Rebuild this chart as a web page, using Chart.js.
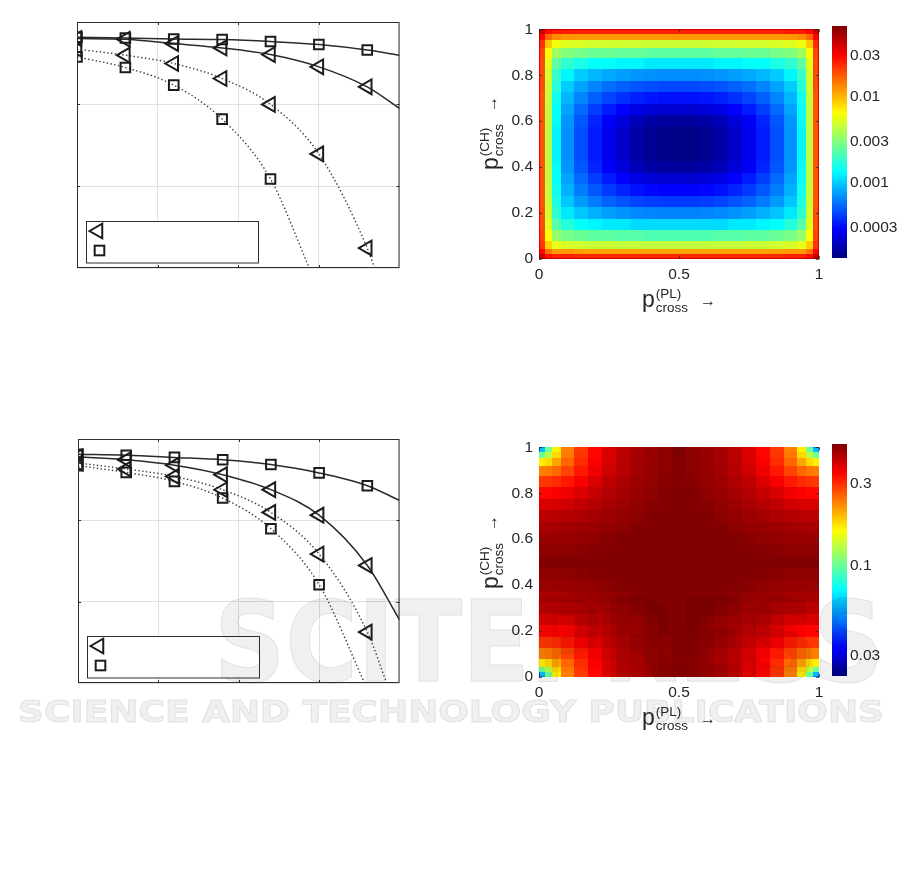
<!DOCTYPE html>
<html>
<head>
<meta charset="utf-8">
<script src="https://cdn.jsdelivr.net/npm/chart.js"></script>
<style>
  html, body { margin: 0; padding: 0; background: #fff; }
  #page { position: relative; width: 901px; height: 895px; overflow: hidden; }
  canvas { position: absolute; }
  .ttl {
    position: absolute; display: flex; align-items: center; white-space: nowrap;
    font-family: 'Liberation Sans', Arial, sans-serif; color: #262626; line-height: 1;
  }
  .ttl .pv { font-size: 23px; position: relative; top: -2px; }
  .ttl .ss { display: inline-flex; flex-direction: column; font-size: 13.5px; line-height: 14px; margin-left: 1px; }
  .ttl .ar { font-size: 16px; margin-left: 12px; }
  #wm { position: absolute; left: 0; top: 0; mix-blend-mode: multiply; pointer-events: none; }
</style>
</head>
<body>
<div id="page">
  <canvas id="linesTop" width="350" height="270" style="left:60px;top:10px"></canvas>
  <canvas id="linesBottom" width="350" height="270" style="left:60px;top:427px"></canvas>
  <canvas id="heatTop" width="335" height="282" style="left:495px;top:14px"></canvas>
  <canvas id="heatBottom" width="335" height="282" style="left:495px;top:432px"></canvas>
  <canvas id="cbarTop" width="75" height="260" style="left:826px;top:14px"></canvas>
  <canvas id="cbarBottom" width="75" height="260" style="left:826px;top:432px"></canvas>

  <div class="ttl" style="left:679px;top:301px;transform:translate(-50%,-50%)">
    <span class="pv">p</span><span class="ss"><span>(PL)</span><span>cross</span></span><span class="ar">&rarr;</span>
  </div>
  <div class="ttl" style="left:492px;top:133px;transform:translate(-50%,-50%) rotate(-90deg)">
    <span class="pv">p</span><span class="ss"><span>(CH)</span><span>cross</span></span><span class="ar">&rarr;</span>
  </div>
  <div class="ttl" style="left:679px;top:719px;transform:translate(-50%,-50%)">
    <span class="pv">p</span><span class="ss"><span>(PL)</span><span>cross</span></span><span class="ar">&rarr;</span>
  </div>
  <div class="ttl" style="left:492px;top:552px;transform:translate(-50%,-50%) rotate(-90deg)">
    <span class="pv">p</span><span class="ss"><span>(CH)</span><span>cross</span></span><span class="ar">&rarr;</span>
  </div>

  <svg id="wm" width="901" height="895">
    <text x="214" y="681" font-family="DejaVu Sans" font-weight="bold" font-size="112"
          textLength="670" lengthAdjust="spacingAndGlyphs" fill="#f0f0f0" stroke="#e2e2e2" stroke-width="1">SCITEPRESS</text>
    <text x="18" y="722" font-family="DejaVu Sans" font-weight="bold" font-size="31"
          textLength="866" lengthAdjust="spacingAndGlyphs" fill="#f0f0f0" stroke="#e2e2e2" stroke-width="1">SCIENCE AND TECHNOLOGY PUBLICATIONS</text>
  </svg>
</div>

<script>
'use strict';

// ══════════════════════════════════════
// DATA
// ══════════════════════════════════════
var SIM_X = [0, 3, 6, 9, 12, 15, 18];

// top-left panel: marker values (y in grid units, top of box = 0)
var TOP_TRI_SOLID = [-0.202, -0.210, -0.263, -0.316, -0.397, -0.547, -0.791];
var TOP_SQ_SOLID  = [-0.186, -0.195, -0.207, -0.214, -0.238, -0.275, -0.341];
var TOP_TRI_DOT   = [-0.332, -0.405, -0.506, -0.689, -1.005, -1.609, -2.757];
var TOP_SQ_DOT    = [-0.426, -0.555, -0.770, -1.184, -1.914];
// where each curve leaves the box (tri solid, sq solid, tri dotted, sq dotted)
var TOP_END_X = [20, 20, 18.45, 14.41];
var TOP_END_Y = [-1.054, -0.405, -3, -3];

// bottom-left panel
var BOT_TRI_SOLID = [-0.218, -0.255, -0.322, -0.439, -0.623, -0.937, -1.555];
var BOT_SQ_SOLID  = [-0.187, -0.199, -0.226, -0.255, -0.314, -0.417, -0.574];
var BOT_TRI_DOT   = [-0.295, -0.369, -0.460, -0.624, -0.903, -1.415, -2.374];
var BOT_SQ_DOT    = [-0.328, -0.411, -0.521, -0.726, -1.103, -1.792];
var BOT_END_X = [20, 20, 19.2, 17.83];
var BOT_END_Y = [-2.223, -0.755, -3, -3];

// heat maps: sample nodes on both axes (p_cross)
var P_NODES = [0, 0.01, 0.03, 0.06, 0.1, 0.15, 0.2, 0.25, 0.3, 0.35, 0.4, 0.45, 0.5,
               0.55, 0.6, 0.65, 0.7, 0.75, 0.8, 0.85, 0.9, 0.94, 0.97, 0.99, 1];
var HEAT_X_TICKS = [0, 0.5, 1];
var HEAT_Y_TICKS = [0, 0.2, 0.4, 0.6, 0.8, 1];

// top heat map, rows from p(CH)=0 up to p(CH)=1
var HEAT_TOP = [
  [.075,.058,.044,.041,.041,.04,.04,.04,.04,.04,.04,.04,.04,.04,.04,.04,.04,.04,.04,.04,.041,.041,.044,.058,.075],
  [.059,.042,.028,.025,.025,.024,.024,.024,.024,.024,.024,.024,.024,.024,.024,.024,.024,.024,.024,.024,.025,.025,.028,.042,.059],
  [.046,.029,.015,.012,.012,.0115,.0113,.0113,.0112,.0112,.0111,.0111,.0111,.0111,.0111,.0112,.0112,.0113,.0113,.0115,.012,.012,.015,.029,.046],
  [.039,.022,.0086,.0056,.005,.0048,.0046,.0046,.0045,.0045,.0044,.0044,.0044,.0044,.0044,.0045,.0045,.0046,.0046,.0048,.005,.0056,.0086,.022,.039],
  [.037,.02,.0064,.0034,.0028,.0026,.0024,.0024,.0023,.0023,.0022,.0022,.0022,.0022,.0022,.0023,.0023,.0024,.0024,.0026,.0028,.0034,.0064,.02,.037],
  [.036,.019,.0053,.0023,.0017,.0014,.0013,.0012,.0012,.0011,.0011,.0011,.0011,.0011,.0011,.0011,.0012,.0012,.0013,.0014,.0017,.0023,.0053,.019,.036],
  [.036,.019,.0048,.0018,.0012,.00097,.00084,.00076,.00071,.00067,.00065,.00064,.00064,.00064,.00065,.00067,.00071,.00076,.00084,.00097,.0012,.0018,.0048,.019,.036],
  [.035,.018,.0046,.0016,.00097,.00074,.00061,.00053,.00048,.00044,.00042,.00041,.00041,.00041,.00042,.00044,.00048,.00053,.00061,.00074,.00097,.0016,.0046,.018,.035],
  [.035,.018,.0045,.0015,.00085,.00062,.00049,.00041,.00036,.00032,.0003,.00029,.00029,.00029,.0003,.00032,.00036,.00041,.00049,.00062,.00085,.0015,.0045,.018,.035],
  [.035,.018,.0044,.0014,.00078,.00055,.00042,.00034,.00029,.00025,.00023,.00022,.00022,.00022,.00023,.00025,.00029,.00034,.00042,.00055,.00078,.0014,.0044,.018,.035],
  [.035,.018,.0044,.0014,.00072,.00049,.00036,.00028,.00023,.00019,.00017,.00016,.00016,.00016,.00017,.00019,.00023,.00028,.00036,.00049,.00072,.0014,.0044,.018,.035],
  [.035,.018,.0043,.0013,.0007,.00047,.00034,.00026,.00021,.00017,.00015,.00014,.00014,.00014,.00015,.00017,.00021,.00026,.00034,.00047,.0007,.0013,.0043,.018,.035],
  [.035,.018,.0043,.0013,.0007,.00047,.00034,.00026,.00021,.00017,.00015,.00014,.00014,.00014,.00015,.00017,.00021,.00026,.00034,.00047,.0007,.0013,.0043,.018,.035],
  [.035,.018,.0043,.0013,.0007,.00047,.00034,.00026,.00021,.00017,.00015,.00014,.00014,.00014,.00015,.00017,.00021,.00026,.00034,.00047,.0007,.0013,.0043,.018,.035],
  [.035,.018,.0044,.0014,.00072,.00049,.00036,.00028,.00023,.00019,.00017,.00016,.00016,.00016,.00017,.00019,.00023,.00028,.00036,.00049,.00072,.0014,.0044,.018,.035],
  [.035,.018,.0044,.0014,.00078,.00055,.00042,.00034,.00029,.00025,.00023,.00022,.00022,.00022,.00023,.00025,.00029,.00034,.00042,.00055,.00078,.0014,.0044,.018,.035],
  [.035,.018,.0045,.0015,.00088,.00065,.00052,.00044,.00039,.00035,.00033,.00032,.00032,.00032,.00033,.00035,.00039,.00044,.00052,.00065,.00088,.0015,.0045,.018,.035],
  [.036,.019,.0047,.0017,.001,.00078,.00065,.00057,.00052,.00048,.00046,.00045,.00045,.00045,.00046,.00048,.00052,.00057,.00065,.00078,.001,.0017,.0047,.019,.036],
  [.036,.019,.0049,.0019,.0013,.001,.00089,.00081,.00076,.00072,.0007,.00069,.00069,.00069,.0007,.00072,.00076,.00081,.00089,.001,.0013,.0019,.0049,.019,.036],
  [.036,.019,.0054,.0024,.0018,.0016,.0014,.0014,.0013,.0013,.0012,.0012,.0012,.0012,.0012,.0013,.0013,.0014,.0014,.0016,.0018,.0024,.0054,.019,.036],
  [.037,.02,.0066,.0036,.003,.0028,.0026,.0026,.0025,.0025,.0024,.0024,.0024,.0024,.0024,.0025,.0025,.0026,.0026,.0028,.003,.0036,.0066,.02,.037],
  [.04,.023,.0089,.0059,.0053,.0051,.0049,.0049,.0048,.0048,.0047,.0047,.0047,.0047,.0047,.0048,.0048,.0049,.0049,.0051,.0053,.0059,.0089,.023,.04],
  [.047,.03,.016,.013,.012,.012,.012,.012,.012,.012,.012,.012,.012,.012,.012,.012,.012,.012,.012,.012,.012,.013,.016,.03,.047],
  [.06,.043,.029,.026,.026,.025,.025,.025,.025,.025,.025,.025,.025,.025,.025,.025,.025,.025,.025,.025,.026,.026,.029,.043,.06],
  [.075,.058,.044,.041,.041,.04,.04,.04,.04,.04,.04,.04,.04,.04,.04,.04,.04,.04,.04,.04,.041,.041,.044,.058,.075]
];

// bottom heat map, rows from p(CH)=0 up to p(CH)=1
var HEAT_BOTTOM = [
  [.029,.05,.098,.165,.233,.29,.338,.382,.42,.446,.467,.482,.5,.482,.467,.446,.42,.382,.338,.29,.233,.165,.098,.05,.029],
  [.05,.06,.102,.166,.234,.29,.338,.382,.42,.446,.467,.482,.5,.482,.467,.446,.42,.382,.338,.29,.234,.166,.102,.06,.05],
  [.098,.102,.128,.177,.238,.293,.34,.383,.421,.447,.467,.482,.5,.482,.467,.447,.421,.383,.34,.293,.238,.177,.128,.102,.098],
  [.165,.166,.177,.208,.252,.301,.346,.387,.423,.448,.468,.483,.5,.483,.468,.448,.423,.387,.346,.301,.252,.208,.177,.166,.165],
  [.233,.234,.238,.252,.28,.319,.359,.397,.428,.452,.471,.486,.5,.486,.471,.452,.428,.397,.359,.319,.28,.252,.238,.234,.233],
  [.29,.29,.293,.301,.319,.349,.382,.414,.438,.459,.475,.491,.5,.491,.475,.459,.438,.414,.382,.349,.319,.301,.293,.29,.29],
  [.338,.338,.34,.346,.359,.382,.407,.43,.45,.468,.481,.497,.5,.497,.481,.468,.45,.43,.407,.382,.359,.346,.34,.338,.338],
  [.382,.382,.383,.387,.397,.414,.43,.448,.463,.476,.49,.5,.5,.5,.49,.476,.463,.448,.43,.414,.397,.387,.383,.382,.382],
  [.42,.42,.421,.423,.428,.438,.45,.463,.474,.486,.5,.5,.5,.5,.5,.486,.474,.463,.45,.438,.428,.423,.421,.42,.42],
  [.446,.446,.447,.448,.452,.459,.468,.476,.486,.498,.5,.5,.5,.5,.5,.498,.486,.476,.468,.459,.452,.448,.447,.446,.446],
  [.467,.467,.467,.468,.471,.475,.481,.49,.5,.5,.5,.5,.5,.5,.5,.5,.5,.49,.481,.475,.471,.468,.467,.467,.467],
  [.482,.482,.482,.483,.486,.491,.497,.5,.5,.5,.5,.5,.5,.5,.5,.5,.5,.5,.497,.491,.486,.483,.482,.482,.482],
  [.5,.5,.5,.5,.5,.5,.5,.5,.5,.5,.5,.5,.5,.5,.5,.5,.5,.5,.5,.5,.5,.5,.5,.5,.5],
  [.482,.482,.482,.483,.486,.491,.497,.5,.5,.5,.5,.5,.5,.5,.5,.5,.5,.5,.497,.491,.486,.483,.482,.482,.482],
  [.467,.467,.467,.468,.471,.475,.481,.49,.5,.5,.5,.5,.5,.5,.5,.5,.5,.49,.481,.475,.471,.468,.467,.467,.467],
  [.446,.446,.447,.448,.452,.459,.468,.476,.486,.498,.5,.5,.5,.5,.5,.498,.486,.476,.468,.459,.452,.448,.447,.446,.446],
  [.42,.42,.421,.423,.428,.438,.45,.463,.474,.486,.5,.5,.5,.5,.5,.486,.474,.463,.45,.438,.428,.423,.421,.42,.42],
  [.382,.382,.383,.387,.397,.414,.43,.448,.463,.476,.49,.5,.5,.5,.49,.476,.463,.448,.43,.414,.397,.387,.383,.382,.382],
  [.338,.338,.34,.346,.359,.382,.407,.43,.45,.468,.481,.497,.5,.497,.481,.468,.45,.43,.407,.382,.359,.346,.34,.338,.338],
  [.29,.29,.293,.301,.319,.349,.382,.414,.438,.459,.475,.491,.5,.491,.475,.459,.438,.414,.382,.349,.319,.301,.293,.29,.29],
  [.233,.234,.238,.252,.28,.319,.359,.397,.428,.452,.471,.486,.5,.486,.471,.452,.428,.397,.359,.319,.28,.252,.238,.234,.233],
  [.165,.166,.177,.208,.252,.301,.346,.387,.423,.448,.468,.483,.5,.483,.468,.448,.423,.387,.346,.301,.252,.208,.177,.166,.165],
  [.098,.102,.128,.177,.238,.293,.34,.383,.421,.447,.467,.482,.5,.482,.467,.447,.421,.383,.34,.293,.238,.177,.128,.102,.098],
  [.05,.06,.102,.166,.234,.29,.338,.382,.42,.446,.467,.482,.5,.482,.467,.446,.42,.382,.338,.29,.234,.166,.102,.06,.05],
  [.029,.05,.098,.165,.233,.29,.338,.382,.42,.446,.467,.482,.5,.482,.467,.446,.42,.382,.338,.29,.233,.165,.098,.05,.029]
];

// colour bars (log scale)
var CBAR_TOP_RANGE = [0.000134, 0.0655];
var CBAR_TOP_TICKS = [0.0003, 0.001, 0.003, 0.01, 0.03];
var CBAR_BOTTOM_RANGE = [0.023, 0.504];
var CBAR_BOTTOM_TICKS = [0.03, 0.1, 0.3];

// ══════════════════════════════════════
// SHARED
// ══════════════════════════════════════
Chart.defaults.font.family = "'Liberation Sans', Arial, sans-serif";
Chart.defaults.font.size = 15.5;
Chart.defaults.color = '#262626';

var INK = '#1c1c1c';

function baseOptions() {
  return {
    responsive: false,
    animation: false,
    devicePixelRatio: 1,
    events: [],
    plugins: { legend: { display: false }, tooltip: { enabled: false } }
  };
}

// matlab "jet"
function jet(t) {
  t = Math.max(0, Math.min(1, t));
  function ch(v) { return Math.round(255 * Math.max(0, Math.min(1, v))); }
  var r = ch(1.5 - Math.abs(4 * t - 3));
  var g = ch(1.5 - Math.abs(4 * t - 2));
  var b = ch(1.5 - Math.abs(4 * t - 1));
  return 'rgb(' + r + ',' + g + ',' + b + ')';
}

function cellEdges(nodes) {
  var e = [nodes[0]];
  for (var i = 1; i < nodes.length; i++) e.push((nodes[i - 1] + nodes[i]) / 2);
  e.push(nodes[nodes.length - 1]);
  return e;
}

function drawTriLeft(ctx, x, y, r) {
  ctx.beginPath();
  ctx.moveTo(x - r, y);
  ctx.lineTo(x + r * 0.5, y - r * 0.866);
  ctx.lineTo(x + r * 0.5, y + r * 0.866);
  ctx.closePath();
  ctx.stroke();
}

function drawSquare(ctx, x, y, r) {
  var h = r * Math.SQRT1_2;
  ctx.strokeRect(x - h, y - h, 2 * h, 2 * h);
}

// ── Line panels ───────────────────────────────────────────────────────────
function toPoints(xs, ys) {
  return ys.map(function(v, i) { return { x: xs[i], y: v }; });
}

function buildLinePanel(id, series, box) {
  var datasets = [];
  // markers first so they sit on top of the curves
  series.forEach(function(s) {
    var tri = s.marker === 'tri';
    datasets.push({
      data: toPoints(SIM_X, s.y),
      showLine: false,
      pointStyle: tri ? 'triangle' : 'rect',
      rotation: tri ? -90 : 0,
      pointRadius: tri ? 8.5 : 6.8,
      pointBorderColor: INK,
      pointBorderWidth: 2,
      pointBackgroundColor: 'rgba(0,0,0,0)'
    });
  });
  series.forEach(function(s) {
    var pts = toPoints(SIM_X, s.y);
    pts.push({ x: s.end[0], y: s.end[1] });
    datasets.push({
      data: pts,
      showLine: true,
      pointRadius: 0,
      borderColor: s.dotted ? '#3a3a3a' : '#2a2a2a',
      borderWidth: s.dotted ? 1.4 : 1.5,
      borderDash: s.dotted ? [1.4, 2.4] : [],
      cubicInterpolationMode: 'monotone'
    });
  });

  var opts = baseOptions();
  opts.layout = { padding: { left: 0, top: box.top, right: box.right, bottom: 0 } };
  opts.scales = {
    x: {
      type: 'linear', min: 0, max: 20,
      ticks: { display: false, stepSize: 5 },
      grid: { color: '#e0e0e0', lineWidth: 1, drawTicks: false },
      border: { display: false },
      afterFit: function(s) { s.height = box.bottom; }
    },
    y: {
      type: 'linear', min: -3, max: 0,
      ticks: { display: false, stepSize: 1 },
      grid: { color: '#e0e0e0', lineWidth: 1, drawTicks: false },
      border: { display: false },
      afterFit: function(s) { s.width = box.left; }
    }
  };

  var framePlugin = {
    id: 'frame',
    afterDatasetsDraw: function(chart) {
      var a = chart.chartArea, ctx = chart.ctx;
      var xs = chart.scales.x, ys = chart.scales.y;
      ctx.save();
      ctx.strokeStyle = '#2e2e2e';
      ctx.lineWidth = 1;
      ctx.strokeRect(a.left + 0.5, a.top + 0.5, a.right - a.left - 1, a.bottom - a.top - 1);
      // small inward ticks
      ctx.beginPath();
      [5, 10, 15].forEach(function(v) {
        var px = Math.round(xs.getPixelForValue(v)) + 0.5;
        ctx.moveTo(px, a.bottom); ctx.lineTo(px, a.bottom - 3);
        ctx.moveTo(px, a.top); ctx.lineTo(px, a.top + 3);
      });
      [-1, -2].forEach(function(v) {
        var py = Math.round(ys.getPixelForValue(v)) + 0.5;
        ctx.moveTo(a.left, py); ctx.lineTo(a.left + 3, py);
        ctx.moveTo(a.right, py); ctx.lineTo(a.right - 3, py);
      });
      ctx.stroke();

      // legend box (entries carry no text in the source)
      var lx = a.left + 8.5, lw = 172, lh = 41.5, ly = a.bottom - 6 - lh;
      ctx.fillStyle = '#fff';
      ctx.fillRect(lx, ly, lw, lh);
      ctx.strokeStyle = '#2e2e2e';
      ctx.strokeRect(Math.round(lx) + 0.5, Math.round(ly) + 0.5, lw, lh);
      ctx.strokeStyle = INK;
      ctx.lineWidth = 2;
      drawTriLeft(ctx, lx + 12.5, ly + 10.5, 8.5);
      drawSquare(ctx, lx + 14, ly + 30, 6.8);
      ctx.restore();
    }
  };

  return new Chart(document.getElementById(id), {
    type: 'scatter',
    data: { datasets: datasets },
    options: opts,
    plugins: [framePlugin]
  });
}

// ── Heat maps ─────────────────────────────────────────────────────────────
function buildHeatPanel(id, rows, range) {
  var edges = cellEdges(P_NODES);
  var l0 = Math.log10(range[0]), span = Math.log10(range[1]) - l0;

  var heatPlugin = {
    id: 'heat',
    beforeDatasetsDraw: function(chart) {
      var ctx = chart.ctx, xs = chart.scales.x, ys = chart.scales.y, a = chart.chartArea;
      ctx.save();
      rows.forEach(function(row, j) {
        var yTop = Math.round(ys.getPixelForValue(edges[j + 1]));
        var yBot = Math.round(ys.getPixelForValue(edges[j]));
        row.forEach(function(v, i) {
          var xl = Math.round(xs.getPixelForValue(edges[i]));
          var xr = Math.round(xs.getPixelForValue(edges[i + 1]));
          ctx.fillStyle = jet((Math.log10(v) - l0) / span);
          ctx.fillRect(xl, yTop, xr - xl, yBot - yTop);
        });
      });
      // inward tick marks
      ctx.strokeStyle = 'rgba(40,40,40,0.75)';
      ctx.lineWidth = 1;
      ctx.beginPath();
      HEAT_Y_TICKS.forEach(function(v) {
        var py = Math.round(ys.getPixelForValue(v)) + 0.5;
        ctx.moveTo(a.left, py); ctx.lineTo(a.left + 3, py);
        ctx.moveTo(a.right, py); ctx.lineTo(a.right - 3, py);
      });
      HEAT_X_TICKS.forEach(function(v) {
        var px = Math.round(xs.getPixelForValue(v)) + 0.5;
        ctx.moveTo(px, a.top); ctx.lineTo(px, a.top + 3);
        ctx.moveTo(px, a.bottom); ctx.lineTo(px, a.bottom - 3);
      });
      ctx.stroke();
      ctx.restore();
    }
  };

  var opts = baseOptions();
  opts.layout = { padding: { left: 0, top: 10, right: 11, bottom: 0 } };
  opts.scales = {
    x: {
      type: 'linear', min: 0, max: 1,
      afterBuildTicks: function(s) { s.ticks = HEAT_X_TICKS.map(function(v) { return { value: v }; }); },
      ticks: { padding: 6, maxRotation: 0, callback: function(v) { return String(v); } },
      grid: { display: false, drawTicks: false },
      border: { display: false },
      afterFit: function(s) { s.height = 37; }
    },
    y: {
      type: 'linear', min: 0, max: 1,
      afterBuildTicks: function(s) { s.ticks = HEAT_Y_TICKS.map(function(v) { return { value: v }; }); },
      ticks: { padding: 6, callback: function(v) { return String(v); } },
      grid: { display: false, drawTicks: false },
      border: { display: false },
      afterFit: function(s) { s.width = 44; }
    }
  };

  return new Chart(document.getElementById(id), {
    type: 'scatter',
    data: { datasets: [{ data: [] }] },
    options: opts,
    plugins: [heatPlugin]
  });
}

// ── Colour bars ───────────────────────────────────────────────────────────
function buildColorbar(id, range, ticks) {
  var barPlugin = {
    id: 'bar',
    beforeDatasetsDraw: function(chart) {
      var a = chart.chartArea, ctx = chart.ctx;
      var h = a.bottom - a.top;
      ctx.save();
      for (var k = 0; k < h; k++) {
        ctx.fillStyle = jet((k + 0.5) / h);
        ctx.fillRect(a.left, a.bottom - k - 1, a.right - a.left, 1);
      }
      ctx.restore();
    }
  };

  var opts = baseOptions();
  opts.layout = { padding: { left: 6, top: 10, right: 0, bottom: 16 } };
  opts.scales = {
    x: { type: 'linear', display: false, min: 0, max: 1 },
    y: {
      type: 'logarithmic', position: 'right', min: range[0], max: range[1],
      afterBuildTicks: function(s) { s.ticks = ticks.map(function(v) { return { value: v }; }); },
      ticks: { padding: 3, callback: function(v) { return String(v); } },
      grid: { display: false, drawTicks: false },
      border: { display: false },
      afterFit: function(s) { s.width = 54; }
    }
  };

  return new Chart(document.getElementById(id), {
    type: 'scatter',
    data: { datasets: [{ data: [] }] },
    options: opts,
    plugins: [barPlugin]
  });
}

// ══════════════════════════════════════
// BUILD
// ══════════════════════════════════════
buildLinePanel('linesTop', [
  { y: TOP_TRI_SOLID, end: [TOP_END_X[0], TOP_END_Y[0]], marker: 'tri', dotted: false },
  { y: TOP_SQ_SOLID,  end: [TOP_END_X[1], TOP_END_Y[1]], marker: 'sq',  dotted: false },
  { y: TOP_TRI_DOT,   end: [TOP_END_X[2], TOP_END_Y[2]], marker: 'tri', dotted: true },
  { y: TOP_SQ_DOT,    end: [TOP_END_X[3], TOP_END_Y[3]], marker: 'sq',  dotted: true }
], { left: 17, top: 12, right: 10, bottom: 12 });

buildLinePanel('linesBottom', [
  { y: BOT_TRI_SOLID, end: [BOT_END_X[0], BOT_END_Y[0]], marker: 'tri', dotted: false },
  { y: BOT_SQ_SOLID,  end: [BOT_END_X[1], BOT_END_Y[1]], marker: 'sq',  dotted: false },
  { y: BOT_TRI_DOT,   end: [BOT_END_X[2], BOT_END_Y[2]], marker: 'tri', dotted: true },
  { y: BOT_SQ_DOT,    end: [BOT_END_X[3], BOT_END_Y[3]], marker: 'sq',  dotted: true }
], { left: 18, top: 12, right: 10, bottom: 14 });

buildHeatPanel('heatTop', HEAT_TOP, CBAR_TOP_RANGE);
buildHeatPanel('heatBottom', HEAT_BOTTOM, CBAR_BOTTOM_RANGE);
buildColorbar('cbarTop', CBAR_TOP_RANGE, CBAR_TOP_TICKS);
buildColorbar('cbarBottom', CBAR_BOTTOM_RANGE, CBAR_BOTTOM_TICKS);
</script>
</body>
</html>
